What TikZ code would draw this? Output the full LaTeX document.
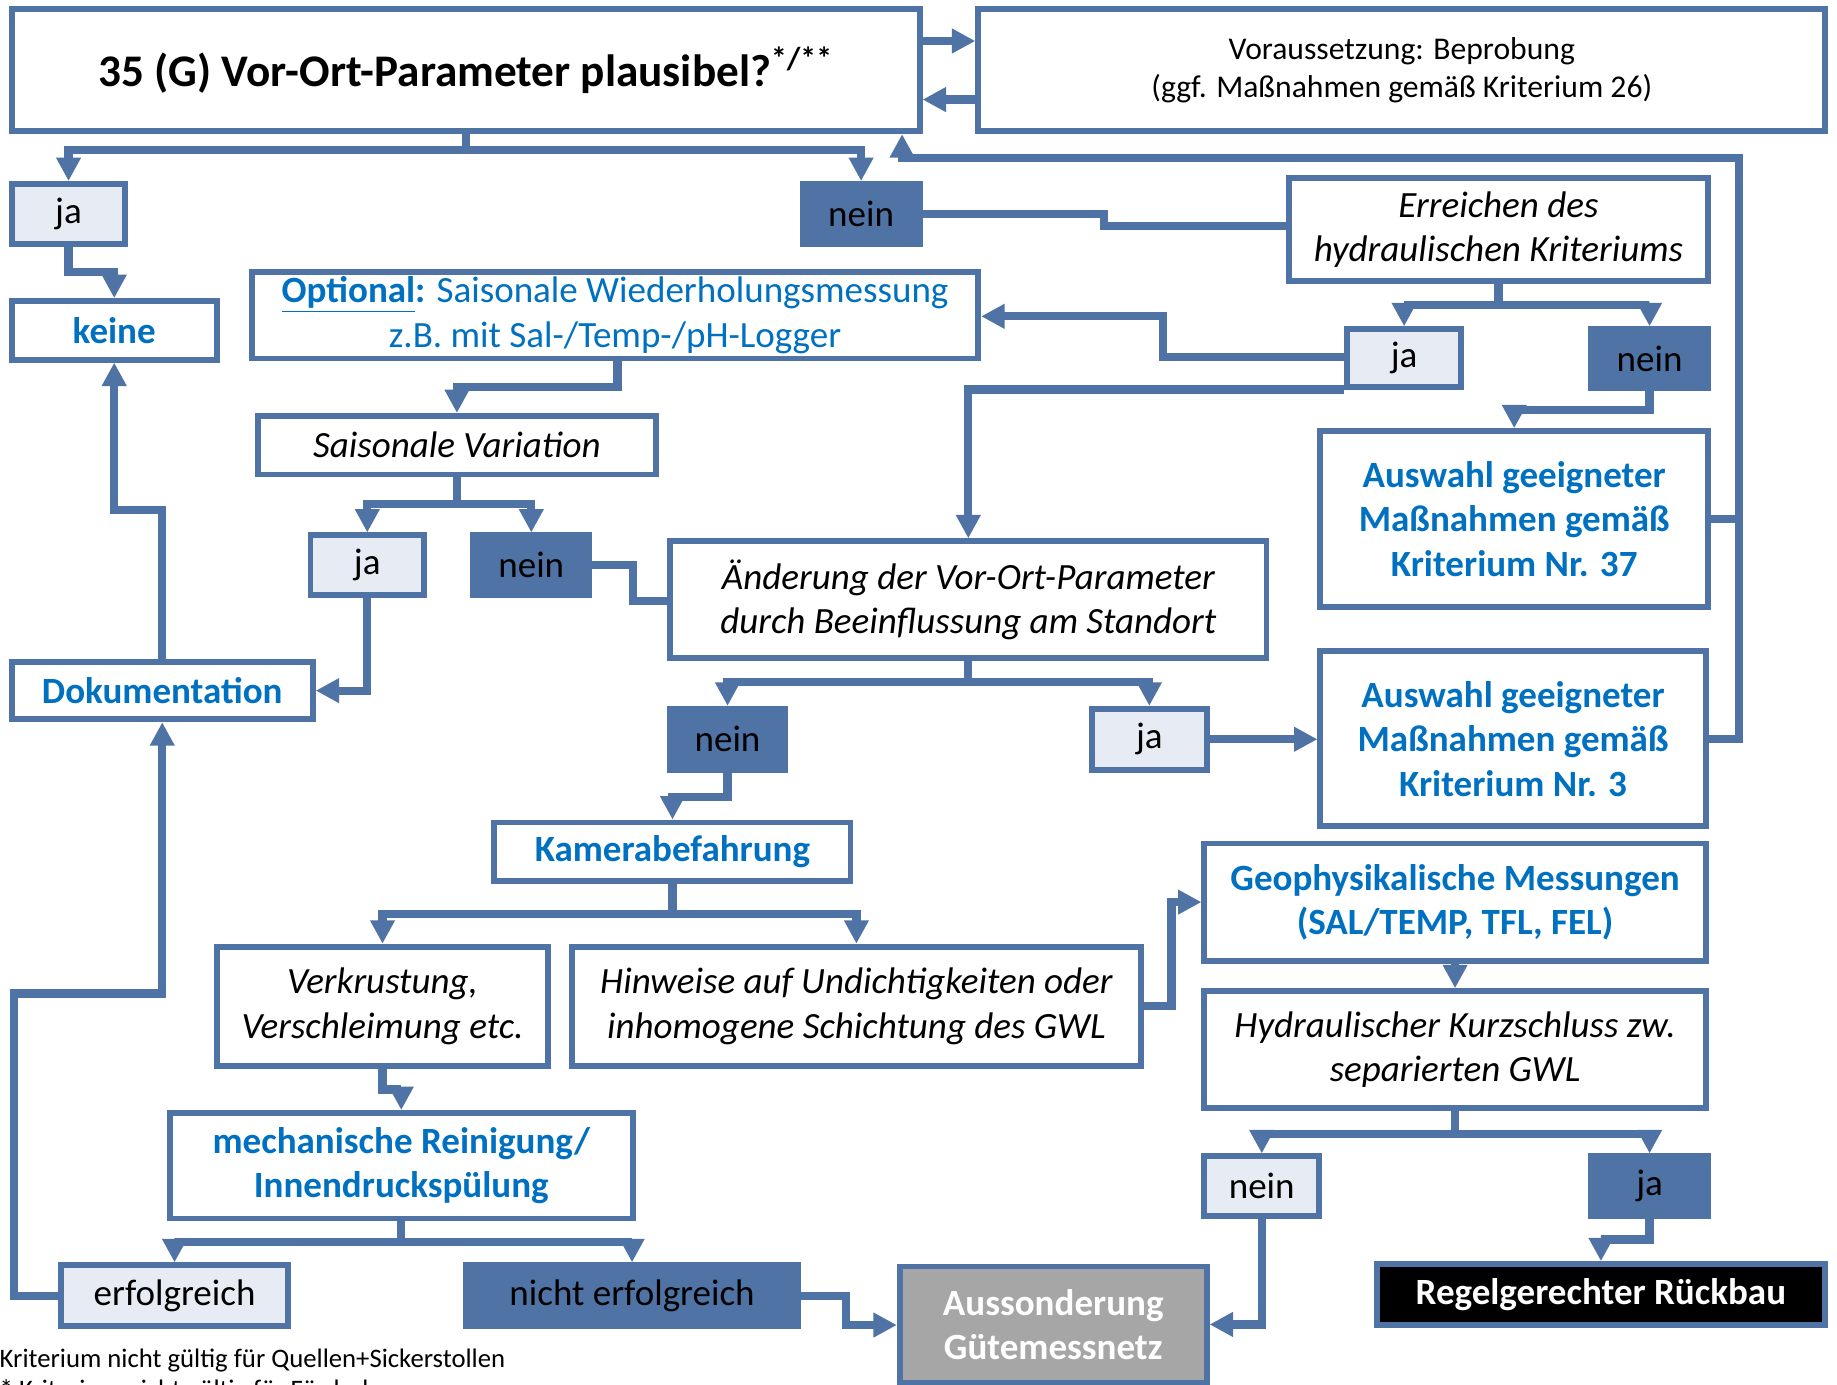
\documentclass[tikz,border=0pt]{standalone}
\usepackage{fontspec}
\setmainfont{Carlito}
\usetikzlibrary{arrows.meta}
\definecolor{bblue}{RGB}{79,115,165}
\definecolor{lfill}{RGB}{230,235,244}
\definecolor{tblue}{RGB}{0,112,192}
\definecolor{gfill}{RGB}{166,166,166}
\newcommand\bx[7]{%
  \pgfmathsetmacro\bxw{(#5-#3)*0.5}%
  \pgfmathsetmacro\bxh{(#6-#4)*0.5}%
  \node[#2, minimum width=\bxw pt, minimum height=\bxh pt] (#1) at ({(#3+#5)/2},{(#4+#6)/2}) {#7};}
\begin{document}
\begin{tikzpicture}[x=0.5pt,y=-0.5pt,
  base/.style={draw=bblue, line width=2.5pt, inner sep=0pt, align=center, font=\fontsize{15.8}{19}\selectfont},
  wbox/.style={base, fill=white},
  ibox/.style={wbox, font=\fontsize{15.8}{19}\selectfont\itshape},
  bbox/.style={wbox, text=tblue, font=\fontsize{15.8}{19}\selectfont\bfseries},
  ljbox/.style={base, fill=lfill},
  djbox/.style={base, fill=bblue},
  conn/.style={draw=bblue, line width=3.5pt},
  arr/.style={conn, -{Triangle[width=10pt,length=10pt]}},
  fnote/.style={anchor=base west, inner sep=0pt, font=\fontsize{11.4}{13}\selectfont}
]
\useasboundingbox[fill=white] (0,0) rectangle (1568,1182);

% boxes
\bx{title}{wbox, font=\fontsize{19.3}{23}\selectfont\bfseries}{10}{8}{785}{112}{35 (G) Vor-Ort-Parameter plausibel?\textsuperscript{*/**}}
\bx{vor}{wbox, font=\fontsize{13.5}{16.5}\selectfont}{835}{8}{1558}{112}{Voraussetzung: Beprobung\\(ggf. Maßnahmen gemäß Kriterium 26)}
\bx{ja1}{ljbox}{10}{157}{107}{208}{ja}
\bx{nein1}{djbox}{685}{157}{785}{208}{nein}
\bx{keine}{bbox}{10}{257}{185}{307}{keine}
\bx{opt}{wbox, text=tblue}{215}{232}{835}{306}{\textbf{\underline{Optional}:} Saisonale Wiederholungsmessung\\z.B. mit Sal-/Temp-/pH-Logger}
\bx{err}{ibox}{1100}{152}{1458}{240}{Erreichen des\\hydraulischen Kriteriums}
\bx{ja2}{ljbox}{1150}{281}{1247}{330}{ja}
\bx{nein2}{djbox}{1358}{281}{1458}{331}{nein}
\bx{a37}{bbox}{1127}{368}{1458}{518}{Auswahl geeigneter\\Maßnahmen gemäß\\Kriterium Nr. 37}
\bx{sv}{ibox}{220}{355}{560}{405}{Saisonale Variation}
\bx{ja3}{ljbox}{265}{457}{362}{508}{ja}
\bx{nein3}{djbox}{404}{457}{503}{508}{nein}
\bx{aend}{ibox}{572}{462}{1081}{562}{Änderung der Vor-Ort-Parameter\\durch Beeinflussung am Standort}
\bx{doku}{bbox}{10}{565}{267}{614}{Dokumentation}
\bx{nein4}{djbox}{572}{605}{670}{657}{nein}
\bx{ja4}{ljbox}{932}{605}{1030}{657}{ja}
\bx{a3}{bbox}{1127}{556}{1456}{705}{Auswahl geeigneter\\Maßnahmen gemäß\\Kriterium Nr. 3}
\bx{kam}{bbox}{422}{702}{726}{752}{Kamerabefahrung}
\bx{verk}{ibox}{185}{808}{468}{910}{Verkrustung,\\Verschleimung etc.}
\bx{hinw}{ibox}{488}{808}{974}{910}{Hinweise auf Undichtigkeiten oder\\inhomogene Schichtung des GWL}
\bx{geo}{bbox}{1028}{720}{1456}{820}{Geophysikalische Messungen\\(SAL/TEMP, TFL, FEL)}
\bx{hyd}{ibox}{1028}{846}{1456}{946}{Hydraulischer Kurzschluss zw.\\separierten GWL}
\bx{nein5}{ljbox}{1028}{987}{1126}{1038}{nein}
\bx{ja5}{djbox}{1358}{987}{1458}{1038}{ja}
\bx{rb}{base, fill=black, text=white, font=\fontsize{15.8}{19}\selectfont\bfseries}{1175}{1079}{1558}{1131}{Regelgerechter Rückbau}
\bx{mech}{bbox}{145}{950}{540}{1040}{mechanische Reinigung/\\Innendruckspülung}
\bx{erf}{ljbox}{52}{1080}{246}{1132}{erfolgreich}
\bx{nerf}{djbox}{398}{1080}{681}{1132}{nicht erfolgreich}
\bx{aus}{base, fill=gfill, text=white, font=\fontsize{15.8}{19}\selectfont\bfseries}{768}{1081}{1030}{1180}{Aussonderung\\Gütemessnetz}

% footnotes (cut at the picture's edges as in the reference)
\node[fnote] (fn1) at (-12,1167) {*Kriterium nicht gültig für Quellen+Sickerstollen};
\node[fnote] (fn2) at (-12,1194) {** Kriterium nicht gültig für Förderbrunnen};

% connectors
\draw[arr] (title.east |- 0,35) -- (vor.west |- 0,35);
\draw[arr] (vor.west |- 0,85) -- (title.east |- 0,85);
\draw[arr] (title.south) -- (title.south |- 0,128) -| (ja1.north);
\draw[arr] (title.south) -- (title.south |- 0,128) -| (nein1.north);
\draw[arr] (ja1.south) -- (ja1.south |- 0,232) -| (keine.north);
\draw[conn] (nein1.east) -- (942,182.5) -- (942,193) -- (err.west |- 0,193);
\draw[arr] (err.south) -- (err.south |- 0,260) -| (ja2.north);
\draw[arr] (err.south) -- (err.south |- 0,260) -| (nein2.north);
\draw[arr] (ja2.west |- 0,305) -| (993,270) -- (opt.east |- 0,270);
\draw[arr] (ja2.south west) -| (aend.north);
\draw[arr] (nein2.south) -- (nein2.south |- 0,350) -| (a37.north);
\draw[conn] (a37.east) -- (a37.east -| 1484,0);
\draw[arr] (a3.east) -| (1484,135) -| (title.south -| 770,0);
\draw[arr] (opt.south -| 527,0) -- (527,330) -| (sv.north);
\draw[arr] (sv.south) -- (sv.south |- 0,430) -| (ja3.north);
\draw[arr] (sv.south) -- (sv.south |- 0,430) -| (nein3.north);
\draw[conn] (nein3.east) -| (540,513) -- (aend.west |- 0,513);
\draw[arr] (ja3.south) |- (doku.east);
\draw[arr] (doku.north) -- (doku.north |- 0,435) -| (keine.south);
\draw[arr] (aend.south) -- (aend.south |- 0,582) -| (nein4.north);
\draw[arr] (aend.south) -- (aend.south |- 0,582) -| (ja4.north);
\draw[arr] (ja4.east) -- (a3.west |- ja4.east);
\draw[arr] (nein4.south) -- (nein4.south |- 0,680) -| (kam.north);
\draw[arr] (kam.south) -- (kam.south |- 0,780) -| (verk.north);
\draw[arr] (kam.south) -- (kam.south |- 0,780) -| (hinw.north);
\draw[arr] (hinw.east) -| (1000,770) -- (geo.west |- 0,770);
\draw[arr] (geo.south) -- (hyd.north);
\draw[arr] (hyd.south) -- (hyd.south |- 0,968) -| (nein5.north);
\draw[arr] (hyd.south) -- (hyd.south |- 0,968) -| (ja5.north);
\draw[arr] (nein5.south) |- (aus.east);
\draw[arr] (ja5.south) -- (ja5.south |- 0,1058) -| (rb.north);
\draw[arr] (verk.south) -- (verk.south |- 0,930) -| (mech.north);
\draw[arr] (mech.south) -- (mech.south |- 0,1060) -| (erf.north);
\draw[arr] (mech.south) -- (mech.south |- 0,1060) -| (nerf.north);
\draw[arr] (nerf.east) -| (722,1131) -- (aus.west |- 0,1131);
\draw[arr] (erf.west) -| (12,848) -| (doku.south);
\end{tikzpicture}
\end{document}
